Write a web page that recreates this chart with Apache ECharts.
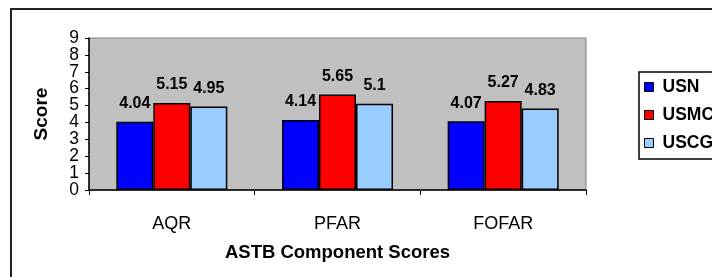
<!DOCTYPE html>
<html>
<head>
<meta charset="utf-8">
<script src="https://cdn.jsdelivr.net/npm/echarts@6/dist/echarts.min.js"></script>
<style>
  html, body { margin: 0; padding: 0; background: #fff; }
  #chart { width: 712px; height: 277px; }
</style>
</head>
<body>
<div id="chart"></div>
<script>
var categories = ['AQR', 'PFAR', 'FOFAR'];
var usn = [4.04, 4.14, 4.07];
var usmc = [5.15, 5.65, 5.27];
var uscg = [4.95, 5.1, 4.83];
var yTicks = [0, 1, 2, 3, 4, 5, 6, 7, 8, 9];

var chartDom = document.getElementById('chart');
var myChart = echarts.init(chartDom);
var font = 'Liberation Sans, Arial, sans-serif';

function barSeries(name, data, color) {
  return {
    name: name,
    type: 'bar',
    data: data,
    barGap: '0%',
    barCategoryGap: '33%',
    itemStyle: { color: color, borderColor: '#000', borderWidth: 1.5 },
    label: {
      show: true,
      position: 'top',
      distance: 10,
      color: '#000',
      fontFamily: font,
      fontWeight: 'bold',
      fontSize: 16
    }
  };
}

// tick labels are tightly packed like the original, so the even and odd
// ones go on two stacked axes to keep echarts from dropping any of them
function scoreAxis(parity, main) {
  return {
    type: 'value',
    position: 'left',
    min: yTicks[0],
    max: yTicks[yTicks.length - 1],
    interval: 1,
    name: main ? 'Score' : '',
    nameLocation: 'middle',
    nameGap: 38,
    nameTextStyle: { color: '#000', fontFamily: font, fontWeight: 'bold', fontSize: 19 },
    splitLine: { show: false },
    axisLine: { show: main, lineStyle: { color: '#000', width: 1.5 } },
    axisTick: { show: main, length: 4, lineStyle: { color: '#000' } },
    axisLabel: {
      color: '#000', fontFamily: font, fontSize: 17.5, margin: 10,
      showMinLabel: true, showMaxLabel: true,
      formatter: function (v) { return v % 2 === parity ? String(v) : ''; }
    }
  };
}

var option = {
  animation: false,
  graphic: [
    {
      type: 'rect',
      shape: { x: 11, y: 9, width: 740, height: 320 },
      style: { fill: 'none', stroke: '#222', lineWidth: 2 },
      z: 0
    }
  ],
  grid: {
    left: 89, top: 38, right: 126, bottom: 87,
    show: true,
    backgroundColor: '#C0C0C0',
    borderColor: '#808080',
    borderWidth: 1
  },
  legend: {
    left: 639, top: 72,
    orient: 'vertical',
    itemWidth: 9, itemHeight: 9,
    itemGap: 10,
    padding: [6, 20, 7, 5],
    borderColor: '#000',
    borderWidth: 1.5,
    icon: 'rect',
    textStyle: { color: '#000', fontFamily: font, fontWeight: 'bold', fontSize: 17.5, padding: [0, 0, 0, 4] },
    data: [
      { name: 'USN', itemStyle: { borderColor: '#000', borderWidth: 1 } },
      { name: 'USMC', itemStyle: { borderColor: '#000', borderWidth: 1 } },
      { name: 'USCG', itemStyle: { borderColor: '#000', borderWidth: 1 } }
    ]
  },
  xAxis: {
    type: 'category',
    data: categories,
    name: 'ASTB Component Scores',
    nameLocation: 'middle',
    nameGap: 53,
    nameTextStyle: { color: '#000', fontFamily: font, fontWeight: 'bold', fontSize: 18.5 },
    axisLine: { lineStyle: { color: '#000', width: 1.5 } },
    axisTick: { show: true, length: 5, lineStyle: { color: '#000' } },
    axisLabel: { color: '#000', fontFamily: font, fontSize: 18, margin: 25 }
  },
  yAxis: [scoreAxis(0, true), scoreAxis(1, false)],
  series: [
    barSeries('USN', usn, '#0000FF'),
    barSeries('USMC', usmc, '#FF0000'),
    barSeries('USCG', uscg, '#99CCFF')
  ]
};

option && myChart.setOption(option);
</script>
</body>
</html>
